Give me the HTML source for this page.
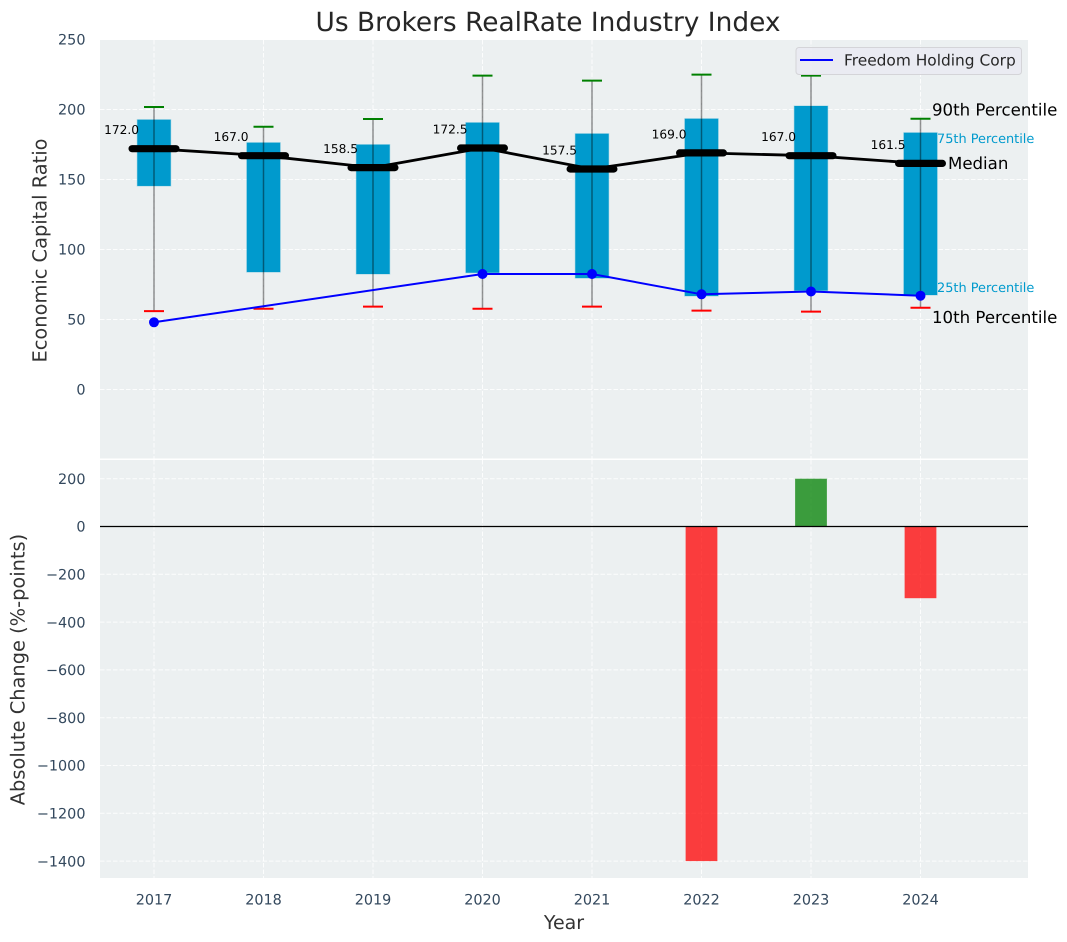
<!DOCTYPE html>
<html lang="en">
<head>
<meta charset="utf-8">
<title>Us Brokers RealRate Industry Index</title>
<style>
html,body{margin:0;padding:0;background:#fff;}
svg{display:block;font-family:"DejaVu Sans","Liberation Sans",sans-serif;text-rendering:geometricPrecision;}
</style>
</head>
<body>
<svg id="chart" xmlns="http://www.w3.org/2000/svg" width="1067" height="942" viewBox="0 0 1067 942">
  <text x="548" y="31" font-size="26.4" fill="#262626" text-anchor="middle">Us Brokers RealRate Industry Index</text>
  <rect x="100" y="40" width="928" height="418.5" fill="#ecf0f1"/>
  <rect x="100" y="460" width="928" height="418" fill="#ecf0f1"/>
  <g id="grid"></g>
  <g id="boxes"></g>
  <g id="whiskers"></g>
  <g id="lines"></g>
  <g id="labels"></g>
  <g id="keys">
    <text id="key90" font-size="16.6" fill="#000">90th Percentile</text>
    <text id="key75" font-size="12.9" fill="#009acd">75th Percentile</text>
    <text id="key50" font-size="16.6" fill="#000">Median</text>
    <text id="key25" font-size="12.9" fill="#009acd">25th Percentile</text>
    <text id="key10" font-size="16.6" fill="#000">10th Percentile</text>
  </g>
  <g id="bars"></g>
  <line x1="100" x2="1028" y1="526.5" y2="526.5" stroke="#000" stroke-width="1.2"/>
  <g id="ticks"></g>
  <g>
    <rect x="796" y="47.5" width="225.5" height="27" rx="3" fill="#eaeaf2" fill-opacity="0.85" stroke="#d4d4d8" stroke-width="1"/>
    <line x1="800" x2="833" y1="60" y2="60" stroke="#0000ff" stroke-width="2"/>
    <text x="844" y="65.5" font-size="15.4" fill="#262626">Freedom Holding Corp</text>
  </g>
  <text transform="translate(46.5,250.5) rotate(-90)" font-size="19.4" fill="#333" text-anchor="middle">Economic Capital Ratio</text>
  <text transform="translate(24.5,669.5) rotate(-90)" font-size="19.4" fill="#333" text-anchor="middle">Absolute Change (%-points)</text>
  <text x="564" y="929" font-size="19" fill="#333" text-anchor="middle">Year</text>
</svg>
<script>
const years = [2017, 2018, 2019, 2020, 2021, 2022, 2023, 2024];
const p90 = [201.8, 187.7, 193.2, 224.2, 220.6, 224.9, 224.2, 193.4];
const p75 = [192.7, 176.3, 174.9, 190.6, 182.7, 193.4, 202.5, 183.4];
const medians = [172.0, 167.0, 158.5, 172.5, 157.5, 169.0, 167.0, 161.5];
const p25 = [145.4, 83.9, 82.5, 83.4, 79.6, 66.8, 70.6, 67.5];
const p10 = [56.0, 57.7, 59.2, 57.7, 59.2, 56.3, 55.6, 58.4];
const company = [48, null, null, 82.5, 82.5, 68, 70, 67];
const changes = [null, null, null, null, null, -1400, 200, -300];
const topTicks = [0, 50, 100, 150, 200, 250];
const bottomTicks = [200, 0, -200, -400, -600, -800, -1000, -1200, -1400];

const xScale = v => 154 + 109.5 * (v - 2017);
const xUnit = 109.5;
const yTop = v => 389.5 - 1.4 * v;
const yBottom = v => 526.5 - 0.239 * v;
const NS = 'http://www.w3.org/2000/svg';

function make(parentId, tag, attrs) {
  const el = document.createElementNS(NS, tag);
  for (const k in attrs) el.setAttribute(k, attrs[k]);
  document.getElementById(parentId).appendChild(el);
  return el;
}
const fmtTick = v => String(v).replace('-', '\u2212');

// Gridlines
const gridStyle = {stroke: '#ffffff', 'stroke-width': 1, 'stroke-dasharray': '4.5,2', 'stroke-opacity': 0.85};
topTicks.forEach(t => {
  const el = make('grid', 'line', Object.assign({x1: 100, x2: 1028, y1: yTop(t), y2: yTop(t)}, gridStyle));
  
  
});
bottomTicks.forEach(t => {
  const el = make('grid', 'line', Object.assign({x1: 100, x2: 1028, y1: yBottom(t), y2: yBottom(t)}, gridStyle));
  
  
});
years.forEach(y => {
  const a = make('grid', 'line', Object.assign({x1: xScale(y), x2: xScale(y), y1: 40, y2: 458.5}, gridStyle));
  
  
  const b = make('grid', 'line', Object.assign({x1: xScale(y), x2: xScale(y), y1: 460, y2: 878}, gridStyle));
  
  
});

// Boxes (25th to 75th percentile)
years.forEach((y, i) => {
  const w = 0.305 * xUnit;
  const el = make('boxes', 'rect', {
    x: xScale(y) - w / 2, y: yTop(p75[i]), width: w, height: yTop(p25[i]) - yTop(p75[i]),
    fill: '#009acd', stroke: '#009acd', 'stroke-opacity': 0.25, 'stroke-width': 1.2
  });
  
  
});

// Whiskers and caps
years.forEach((y, i) => {
  const x = xScale(y);
  const stem = make('whiskers', 'line', {x1: x, x2: x, y1: yTop(p10[i]), y2: yTop(p90[i]), stroke: '#000', 'stroke-opacity': 0.42, 'stroke-width': 1.5});
  
  
  const hi = make('whiskers', 'line', {x1: x - 10, x2: x + 10, y1: yTop(p90[i]), y2: yTop(p90[i]), stroke: '#008000', 'stroke-width': 2});
  
  
  const lo = make('whiskers', 'line', {x1: x - 10, x2: x + 10, y1: yTop(p10[i]), y2: yTop(p10[i]), stroke: '#ff0000', 'stroke-width': 2});
  
  
});

// Median line and bars
const medianPath = make('lines', 'polyline', {
  points: years.map((y, i) => xScale(y) + ',' + yTop(medians[i])).join(' '),
  fill: 'none', stroke: '#000', 'stroke-width': 2.8
});


years.forEach((y, i) => {
  const half = 0.2 * xUnit;
  const el = make('lines', 'line', {
    x1: xScale(y) - half, x2: xScale(y) + half, y1: yTop(medians[i]), y2: yTop(medians[i]),
    stroke: '#000', 'stroke-width': 7.2, 'stroke-linecap': 'round'
  });
  
  
});

// Company line and markers
const companyPts = years.map((y, i) => [y, company[i]]).filter(p => p[1] !== null);
const companyPath = make('lines', 'polyline', {
  points: companyPts.map(p => xScale(p[0]) + ',' + yTop(p[1])).join(' '),
  fill: 'none', stroke: '#0000ff', 'stroke-width': 2
});


companyPts.forEach(p => {
  const el = make('lines', 'circle', {cx: xScale(p[0]), cy: yTop(p[1]), r: 5, fill: '#0000ff'});
  
  
});

// Median value labels
years.forEach((y, i) => {
  const el = make('labels', 'text', {x: xScale(y) - 15, y: yTop(medians[i]) - 14.5, 'font-size': 12.2, fill: '#000', 'text-anchor': 'end'});
  el.textContent = medians[i].toFixed(1);
  
  
});

// Percentile key labels follow the final year
const last = years.length - 1;
const lastX = xScale(years[last]);
function place(id, dx, py) {
  const el = document.getElementById(id);
  el.setAttribute('x', lastX + dx);
  el.setAttribute('y', py);
}
place('key90', 11.5, yTop(p90[last]) - 3);
place('key75', 16.5, yTop(p75[last]) + 10.5);
place('key50', 27.5, yTop(medians[last]) + 5.8);
place('key25', 16.5, yTop(p25[last]) - 3);
place('key10', 11.5, yTop(p10[last]) + 15.5);

// Change bars
years.forEach((y, i) => {
  if (changes[i] === null) return;
  const w = 0.29 * xUnit;
  const top = Math.min(yBottom(0), yBottom(changes[i]));
  const h = Math.abs(yBottom(changes[i]) - yBottom(0));
  const el = make('bars', 'rect', {
    x: xScale(y) - w / 2, y: top, width: w, height: h,
    fill: changes[i] >= 0 ? '#008000' : '#ff0000', 'fill-opacity': 0.75
  });
  
  
});

// Tick labels
topTicks.forEach(t => {
  const el = make('ticks', 'text', {x: 85.5, y: yTop(t) + 5.2, 'font-size': 14.4, fill: '#34495e', 'text-anchor': 'end'});
  el.textContent = fmtTick(t);
  
  
});
bottomTicks.forEach(t => {
  const el = make('ticks', 'text', {x: 85.5, y: yBottom(t) + 5.2, 'font-size': 14.4, fill: '#34495e', 'text-anchor': 'end'});
  el.textContent = fmtTick(t);
  
  
});
years.forEach(y => {
  const el = make('ticks', 'text', {x: xScale(y), y: 904.5, 'font-size': 14.4, fill: '#34495e', 'text-anchor': 'middle'});
  el.textContent = String(y);
  
  
});
</script>
</body>
</html>
